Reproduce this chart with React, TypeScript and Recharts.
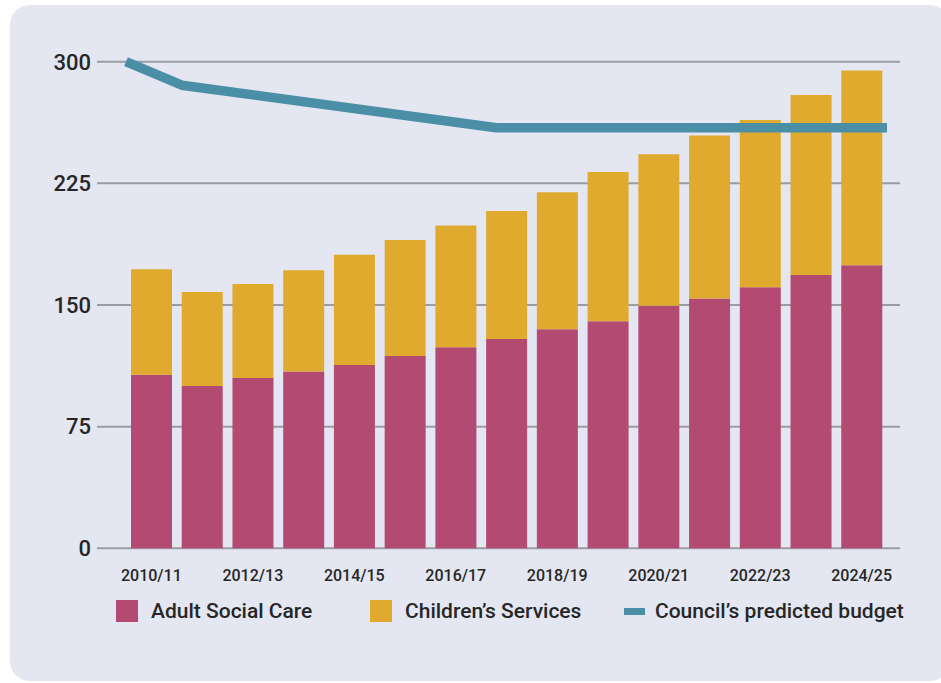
import {
  ComposedChart,
  Bar,
  Line,
  XAxis,
  YAxis,
  CartesianGrid,
  Legend,
} from "recharts";

const years = [
  "2010/11", "2011/12", "2012/13", "2013/14", "2014/15",
  "2015/16", "2016/17", "2017/18", "2018/19", "2019/20",
  "2020/21", "2021/22", "2022/23", "2023/24", "2024/25",
];
const adultSocialCare = [107, 100, 105, 109, 113, 118.5, 124, 129, 135, 140, 149.5, 154, 161, 168.5, 174.5];
const childrensServices = [65, 58, 58, 62.5, 68, 71.5, 75, 79, 84.5, 92, 93.5, 100.5, 103, 111, 120];
// budget line sits on its own year-position scale (0 = start of 2010/11, 15 = end of 2024/25)
const budgetPos = [0, 1.1, 7.3, 15];
const budgetValues = [300, 285.5, 259.3, 259.3];
const yTicks = [0, 75, 150, 225, 300];

const barData = years.map((year, i) => ({
  year,
  adult: adultSocialCare[i],
  children: childrensServices[i],
}));
const lineData = budgetPos.map((x, i) => ({ x, budget: budgetValues[i] }));

const MAGENTA = "#b24a72";
const GOLD = "#e0aa2e";
const TEAL = "#4a8fa6";
const TEXT = "#262626";
const FONT = "Roboto, 'Noto Sans', sans-serif";

const legendItems = [
  { label: "Adult Social Care", color: MAGENTA, kind: "box", left: 116 },
  { label: "Children\u2019s Services", color: GOLD, kind: "box", left: 370 },
  { label: "Council\u2019s predicted budget", color: TEAL, kind: "line", left: 624 },
];

const renderLegend = () => (
  <div style={{ position: "relative", width: 941, height: 30, fontFamily: FONT }}>
    {legendItems.map((item) => (
      <div
        key={item.label}
        style={{
          position: "absolute",
          left: item.left,
          top: 0,
          display: "flex",
          alignItems: "center",
          height: 26,
        }}
      >
        <span
          style={{
            display: "inline-block",
            width: item.kind === "box" ? 22 : 21,
            height: item.kind === "box" ? 22 : 7,
            background: item.color,
            marginRight: item.kind === "box" ? 13 : 10,
          }}
        />
        <span style={{ fontSize: 21, color: TEXT, fontWeight: 500, whiteSpace: "nowrap" }}>
          {item.label}
        </span>
      </div>
    ))}
  </div>
);

export default function App() {
  return (
    <div style={{ position: "absolute", left: 0, top: 0, width: 941, height: 683, background: "#fff" }}>
      <div
        style={{
          position: "absolute",
          left: 10,
          top: 5,
          width: 940,
          height: 676,
          borderRadius: 20,
          background: "#e4e6f1",
        }}
      />
      <div style={{ position: "absolute", left: 0, top: 0 }}>
        <ComposedChart
          width={941}
          height={683}
          data={barData}
          margin={{ top: 61.7, right: 41, bottom: 94.7, left: 0 }}
        >
          <CartesianGrid horizontal vertical={false} stroke="#9b9ca3" strokeWidth={2} />
          <XAxis
            dataKey="year"
            interval={1}
            axisLine={false}
            tickLine={false}
            tickSize={0}
            tickMargin={21}
            height={40}
            padding={{ left: 29, right: 13 }}
            tick={{ fontSize: 16, fill: TEXT, fontFamily: FONT, fontWeight: 500 }}
          />
          <XAxis
            xAxisId="line"
            type="number"
            dataKey="x"
            domain={[0, 15]}
            hide
            padding={{ left: 29, right: 13 }}
          />
          <YAxis
            width={97}
            domain={[0, 300]}
            ticks={yTicks}
            axisLine={false}
            tickLine={false}
            tickSize={0}
            tickMargin={6}
            tick={{ fontSize: 22, fill: TEXT, fontFamily: FONT, fontWeight: 500 }}
          />
          <Bar dataKey="adult" name="Adult Social Care" stackId="a" fill={MAGENTA} barSize={41} isAnimationActive={false} />
          <Bar dataKey="children" name="Children's Services" stackId="a" fill={GOLD} barSize={41} isAnimationActive={false} />
          <Line
            xAxisId="line"
            data={lineData}
            dataKey="budget"
            name="Council's predicted budget"
            type="linear"
            stroke={TEAL}
            strokeWidth={9.5}
            dot={false}
            activeDot={false}
            strokeLinejoin="round"
            isAnimationActive={false}
          />
          <Legend
            content={renderLegend}
            layout="horizontal"
            verticalAlign="middle"
            align="center"
            wrapperStyle={{ top: 598, left: 0, width: 941 }}
          />
        </ComposedChart>
      </div>
    </div>
  );
}
